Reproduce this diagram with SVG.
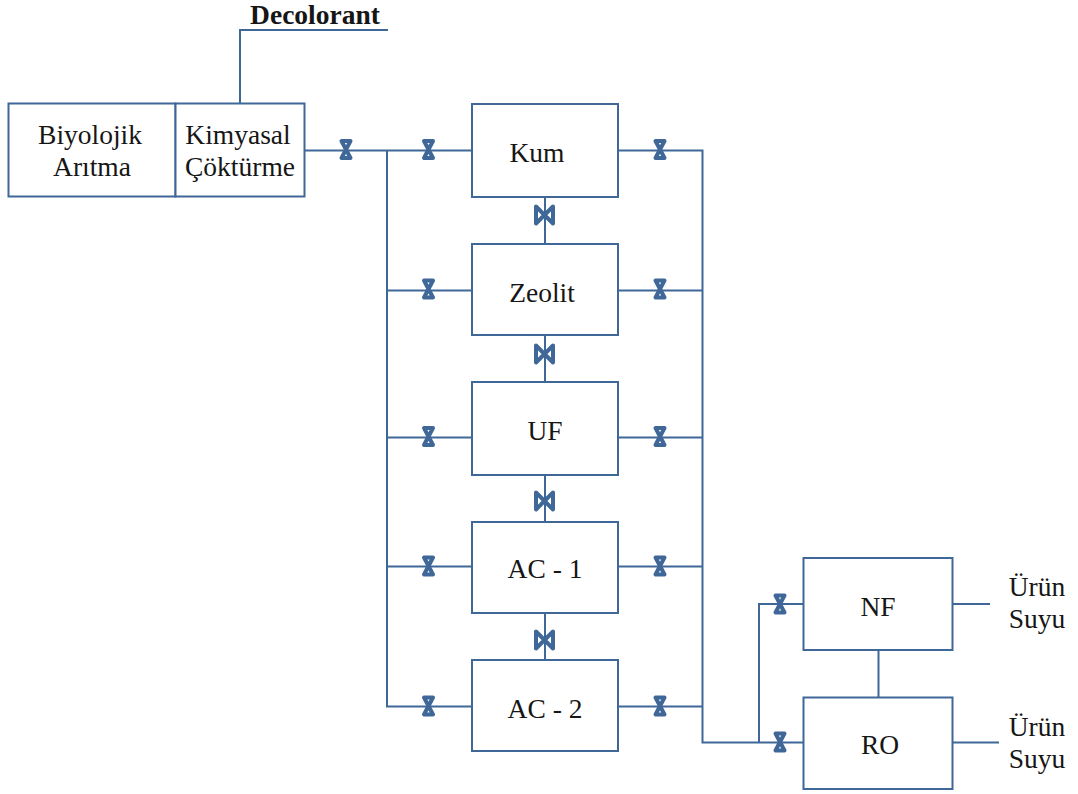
<svg xmlns="http://www.w3.org/2000/svg" width="1078" height="794" viewBox="0 0 1078 794">
<style>
.b{fill:#fff;stroke:#3f6797;stroke-width:2}
.c{fill:none;stroke:#3f6797;stroke-width:2}
.v{fill:none;stroke:#3f6797;stroke-width:4;stroke-linejoin:round}
text{font-family:"Liberation Serif","Times New Roman",serif;font-size:27.500px;fill:#161616;text-anchor:middle}
</style>
<defs>
<g id="vv"><path class="v" d="M-4.500,-8.500H4.500L-4.500,8.500H4.500Z"/></g>
<g id="vh"><path class="v" d="M-8.500,-8.500V8.500L8.500,-8.500V8.500Z"/></g>
</defs>
<rect width="1078" height="794" fill="#fff"/>
<g id="connectors">
<path class="c" d="M240,103V30H388"/>
<path class="c" d="M304,150.500H472M387,150.500V706.500H472M387,290.500H472M387,437.500H472M387,566.500H472"/>
<path class="c" d="M618,150.500H702.500V742.500H803M618,290.500H702M618,437.500H702M618,566.500H702M618,706.500H702"/>
<path class="c" d="M759,742V604H803"/>
<path class="c" d="M545,197V244M545,335V382M545,475V522M545,613V660M878.500,650V697"/>
<path class="c" d="M952,604H990M952,742.500H999"/>
<use href="#vv" x="346" y="149.500"/>
<use href="#vv" x="428.500" y="149.500"/><use href="#vv" x="428.500" y="289"/><use href="#vv" x="428.500" y="436.500"/><use href="#vv" x="428.500" y="566"/><use href="#vv" x="428.500" y="706"/>
<use href="#vv" x="660" y="149.500"/><use href="#vv" x="660" y="289"/><use href="#vv" x="660" y="436.500"/><use href="#vv" x="660" y="566"/><use href="#vv" x="660" y="706"/>
<use href="#vv" x="780" y="604"/><use href="#vv" x="780" y="742"/>
<use href="#vh" x="544.500" y="215"/><use href="#vh" x="544.500" y="354"/><use href="#vh" x="544.500" y="501"/><use href="#vh" x="544.500" y="640"/>
</g>
<g id="biyolojik"><rect class="b" x="8.500" y="103.500" width="167" height="93"/><text x="90" y="144">Biyolojik</text><text x="92" y="176">Arıtma</text></g>
<g id="kimyasal"><rect class="b" x="175.500" y="103.500" width="129" height="93"/><text x="238" y="144">Kimyasal</text><text x="240" y="176">Çöktürme</text></g>
<g id="kum"><rect class="b" x="472" y="104" width="146" height="93"/><text x="537" y="162">Kum</text></g>
<g id="zeolit"><rect class="b" x="472" y="244" width="146" height="91"/><text x="542" y="302">Zeolit</text></g>
<g id="uf"><rect class="b" x="472" y="382" width="146" height="93"/><text x="545" y="440">UF</text></g>
<g id="ac1"><rect class="b" x="472" y="522" width="146" height="91"/><text x="545" y="578">AC - 1</text></g>
<g id="ac2"><rect class="b" x="472" y="660" width="146" height="91"/><text x="545" y="718">AC - 2</text></g>
<g id="nf"><rect class="b" x="803.500" y="558" width="149" height="92"/><text x="878" y="616">NF</text></g>
<g id="ro"><rect class="b" x="803.500" y="697.500" width="149" height="91.500"/><text x="880" y="754">RO</text></g>
<g id="labels">
<text x="315" y="24" style="font-weight:bold">Decolorant</text>
<text x="1037" y="596">Ürün</text><text x="1037" y="628">Suyu</text>
<text x="1037" y="736">Ürün</text><text x="1037" y="768">Suyu</text>
</g>
</svg>
